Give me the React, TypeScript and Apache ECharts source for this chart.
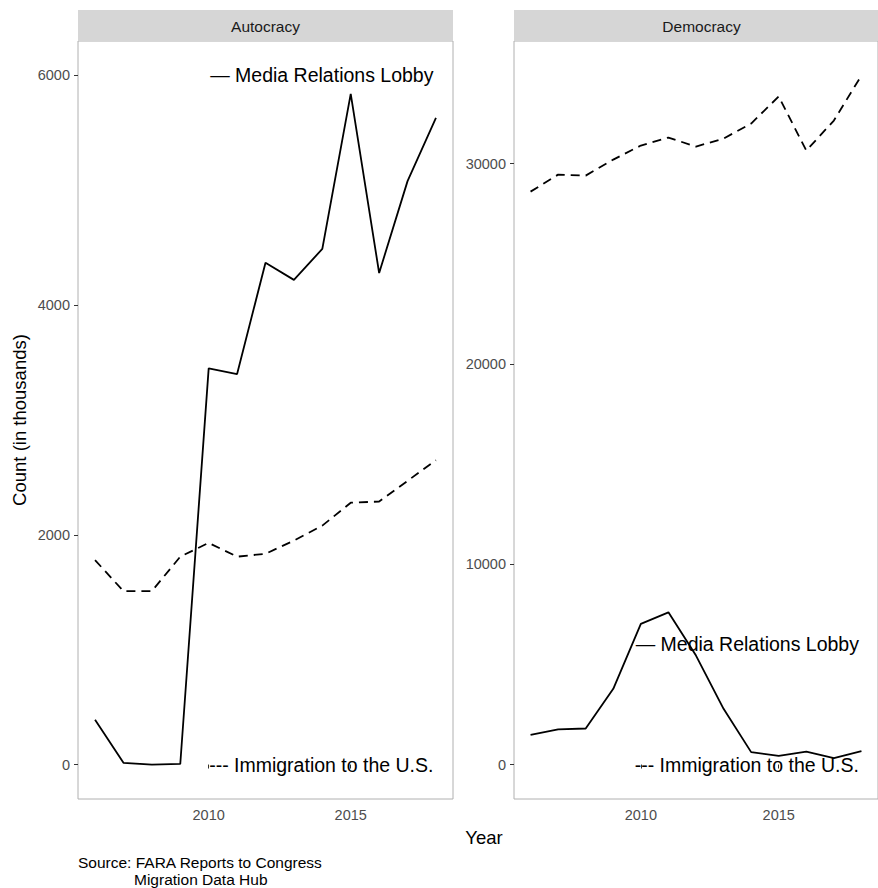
import React, { useEffect, useRef } from "react";
import * as echarts from "echarts";

const years = [2006, 2007, 2008, 2009, 2010, 2011, 2012, 2013, 2014, 2015, 2016, 2017, 2018];
const autoMedia = [390, 15, 0, 5, 3450, 3400, 4370, 4220, 4490, 5840, 4280, 5080, 5630];
const autoImmig = [1780, 1510, 1510, 1810, 1930, 1810, 1835, 1950, 2080, 2280, 2290, 2470, 2650];
const demoMedia = [1480, 1760, 1800, 3780, 7020, 7600, 5440, 2780, 620, 430, 650, 320, 670];
const demoImmig = [28600, 29450, 29400, 30200, 30900, 31300, 30850, 31250, 32000, 33350, 30650, 32150, 34400];
const xTicks = [2010, 2015];
const autoYTicks = [0, 2000, 4000, 6000];
const demoYTicks = [0, 10000, 20000, 30000];
const panels = ["Autocracy", "Democracy"];
const annotations = [
  { x: 2018, y: 6000, text: "— Media Relations Lobby" },
  { x: 2018, y: 0, text: "--- Immigration to the U.S." },
];

const FONT = "'Liberation Sans', Arial, Helvetica, sans-serif";

export default function App() {
  const ref = useRef<HTMLDivElement>(null);
  useEffect(() => {
    document.body.style.margin = "0";
    if (!ref.current) return;
    const chart = echarts.init(ref.current, null, { renderer: "svg" });
    const grids = [
      { left: 78, top: 41, width: 375, height: 758 },
      { left: 514, top: 41, width: 375, height: 758 },
    ];
    const fmt = (v: number) => String(v);
    const mkX = (i: number) => ({
      type: "value",
      gridIndex: i,
      min: 2005.4,
      max: 2018.6,
      axisLine: { show: false },
      axisTick: { show: true, customValues: xTicks, length: 4, lineStyle: { color: "#333333", width: 1 } },
      axisLabel: { customValues: xTicks, formatter: fmt, color: "#4d4d4d", fontSize: 14.5, fontFamily: FONT, margin: 8 },
      splitLine: { show: false },
    });
    const mkY = (i: number, min: number, max: number, ticks: number[]) => ({
      type: "value",
      gridIndex: i,
      min,
      max,
      axisLine: { show: false },
      axisTick: { show: true, customValues: ticks, length: 4, lineStyle: { color: "#333333", width: 1 } },
      axisLabel: { customValues: ticks, formatter: fmt, color: "#4d4d4d", fontSize: 14.5, fontFamily: FONT, margin: 8 },
      splitLine: { show: false },
    });
    const line = (i: number, vals: number[], dashed: boolean) => ({
      type: "line",
      xAxisIndex: i,
      yAxisIndex: i,
      data: years.map((y, k) => [y, vals[k]]),
      showSymbol: false,
      symbol: "none",
      lineStyle: { color: "#000000", width: 1.8, type: dashed ? [9, 6] : "solid" },
      silent: true,
      z: 2,
    });
    const ann = (i: number) => ({
      type: "scatter",
      xAxisIndex: i,
      yAxisIndex: i,
      symbolSize: 1,
      itemStyle: { color: "rgba(0,0,0,0)" },
      silent: true,
      clip: false,
      z: 5,
      data: annotations.map((a) => ({ value: [a.x, a.y], name: a.text })),
      labelLayout: { hideOverlap: false },
      label: {
        show: true,
        position: "left",
        distance: 2,
        formatter: (p: any) => p.name,
        color: "#000000",
        opacity: 1,
        textBorderWidth: 0,
        fontSize: 19.5,
        fontFamily: FONT,
      },
    });
    const strips: any[] = [];
    panels.forEach((p, i) => {
      const g = grids[i];
      strips.push({
        type: "rect",
        shape: { x: g.left, y: 10, width: g.width, height: 31 },
        style: { fill: "#d6d6d6" },
        silent: true,
      });
      strips.push({
        type: "text",
        x: g.left + g.width / 2,
        y: 26,
        style: { text: p, fill: "#1a1a1a", fontSize: 15.5, fontFamily: FONT, textAlign: "center", textVerticalAlign: "middle" },
        silent: true,
      });
    });
    chart.setOption({
      animation: false,
      backgroundColor: "#ffffff",
      grid: grids.map((g) => ({ ...g, show: true, backgroundColor: "#ffffff", borderColor: "#b0b0b0", borderWidth: 1 })),
      xAxis: [mkX(0), mkX(1)],
      yAxis: [mkY(0, -300, 6300, autoYTicks), mkY(1, -1720, 36120, demoYTicks)],
      series: [
        line(0, autoMedia, false),
        line(0, autoImmig, true),
        line(1, demoMedia, false),
        line(1, demoImmig, true),
        ann(0),
        ann(1),
      ],
      graphic: [
        ...strips,
        {
          type: "text",
          x: 19,
          y: 420,
          rotation: Math.PI / 2,
          style: { text: "Count (in thousands)", fill: "#000000", fontSize: 18.5, fontFamily: FONT, textAlign: "center", textVerticalAlign: "middle" },
          silent: true,
        },
        {
          type: "text",
          x: 484,
          y: 837,
          style: { text: "Year", fill: "#000000", fontSize: 18.5, fontFamily: FONT, textAlign: "center", textVerticalAlign: "middle" },
          silent: true,
        },
        {
          type: "text",
          x: 78,
          y: 862,
          style: { text: "Source: FARA Reports to Congress", fill: "#000000", fontSize: 15.5, fontFamily: FONT, textAlign: "left", textVerticalAlign: "middle" },
          silent: true,
        },
        {
          type: "text",
          x: 134,
          y: 879,
          style: { text: "Migration Data Hub", fill: "#000000", fontSize: 15.5, fontFamily: FONT, textAlign: "left", textVerticalAlign: "middle" },
          silent: true,
        },
      ],
    });
    return () => chart.dispose();
  }, []);
  return <div ref={ref} style={{ width: 878, height: 888 }} />;
}
